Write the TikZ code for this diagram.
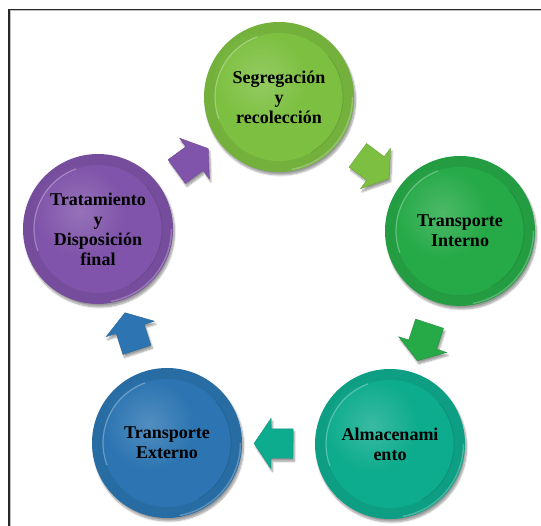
\documentclass[tikz,border=0pt]{standalone}
\usepackage{fontspec}
\setmainfont{Liberation Serif}
\usetikzlibrary{shapes.arrows,shadows.blur,calc}

\definecolor{segc}{RGB}{125,192,65}
\definecolor{tinc}{RGB}{38,170,72}
\definecolor{almc}{RGB}{14,172,142}
\definecolor{extc}{RGB}{44,117,178}
\definecolor{trac}{RGB}{128,84,170}
\definecolor{framec}{RGB}{40,40,40}

\tikzset{
  soft shadow/.style={blur shadow={shadow xshift=1.5pt, shadow yshift=-3pt,
      shadow opacity=40, shadow blur steps=8}},
  disc/.style={circle, minimum size=150pt, inner sep=0pt, align=center,
    font=\fontsize{18}{20}\selectfont\bfseries, text=black,
    fill=#1!92!black, soft shadow,
    path picture={
      \coordinate (pc) at (path picture bounding box.center);
      \fill[#1] (pc) circle (64pt);
      \shade[inner color=white, outer color=#1, opacity=.18] ($(pc)+(-18pt,18pt)$) circle (46pt);
      \draw[white, opacity=.3, line width=1.2pt] ($(pc)+(110:64pt)$) arc (110:200:64pt);
      \draw[black, opacity=.1, line width=1pt] ($(pc)+(-60:64pt)$) arc (-60:40:64pt);
      \draw[white, opacity=.25, line width=1.5pt] ($(pc)+(-80:73.5pt)$) arc (-80:0:73.5pt);
    }},
  flow/.style={single arrow, minimum height=39pt, inner xsep=0pt, inner ysep=14.5pt,
    single arrow head extend=10.5pt, single arrow tip angle=112,
    fill=#1, draw=#1!85!black, line width=0.4pt, soft shadow}
}

\begin{document}
\begin{tikzpicture}[x=1pt,y=1pt]
  \useasboundingbox (0,0) rectangle (541,526);
  % frame (left and top edges)
  \draw[framec, line width=1.1pt] (9,0) -- (9,516.5) -- (541,516.5);
  \draw[gray!50, line width=0.8pt] (10.3,0) -- (10.3,515.2) -- (541,515.2);

  % stages of the cycle
  \node[disc=segc] (seg) at (279,429) {Segregación\\y\\recolección};
  \node[disc=tinc] (tin) at (460,295) {Transporte\\Interno};
  \node[disc=almc] (alm) at (390,82)  {Almacenami\\ento};
  \node[disc=extc] (ext) at (167,83)  {Transporte\\Externo};
  \node[disc=trac] (tra) at (98,297)  {Tratamiento\\y\\Disposición\\final};

  % block arrows between consecutive stages, coloured like their source
  \foreach \a/\b/\c [count=\i] in {seg/tin/segc, tin/alm/tinc, alm/ext/almc, ext/tra/extc, tra/seg/trac}
    \path let \p1=($(\b)-(\a)$), \n1={atan2(\y1,\x1)} in
      node[flow=\c, rotate=\n1] (arr\i) at ($(\a)!0.5!(\b)$) {};
\end{tikzpicture}
\end{document}
